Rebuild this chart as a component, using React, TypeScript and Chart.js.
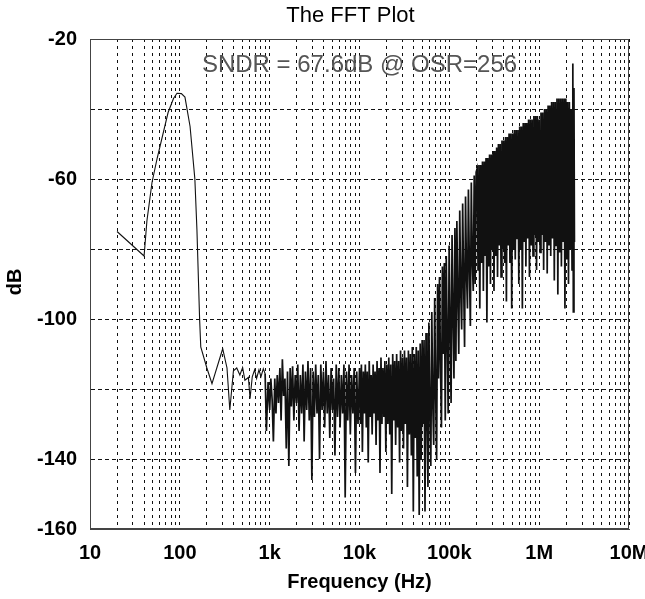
import React, { useEffect, useRef } from "react";
import { Chart, registerables } from "chart.js";

Chart.register(...registerables);

// ---------- text ----------
const TITLE = "The FFT Plot";
const ANNOTATION = "SNDR = 67.6dB @ OSR=256";
const X_TITLE = "Frequency (Hz)";
const Y_TITLE = "dB";

// ---------- axes ----------
const xDecades = [10, 100, 1e3, 1e4, 1e5, 1e6, 1e7];
const xDecadeLabels = ["10", "100", "1k", "10k", "100k", "1M", "10M"];
const yGridValues = [-160, -140, -120, -100, -80, -60, -40, -20];
const yLabelledValues = [-160, -140, -100, -60, -20];

// ---------- spectrum [Hz, dB]: signal region ----------
const signalBand: [number, number][] = [
  [20, -75], [40, -82], [43, -72], [49, -61], [56, -54], [74, -41], [85, -37], [93, -35.5],
  [104, -35.6], [114, -36.6], [130, -45], [147, -60], [155, -74.5], [166, -100], [171, -108],
  [200, -114], [228, -118.5], [300, -108.5], [335, -114], [360, -126], [395, -114.8], [430, -114],
  [466, -116], [500, -113.9], [530, -117.5], [580, -116.7], [605, -122.8], [640, -116.5],
  [680, -114.5], [715, -117], [760, -114.5], [800, -116.5], [850, -114.2], [890, -115.6],
];

// ---------- noise floor ~1k-10k ----------
const floorBand: [number, number][] = [
  [920, -132], [960, -118], [1000, -126], [1030, -117], [1065, -123], [1100, -135], [1140, -117],
  [1175, -127], [1215, -116], [1255, -124], [1300, -114], [1340, -129], [1385, -111.5], [1430, -122],
  [1480, -117], [1530, -137], [1580, -115], [1635, -142], [1690, -114], [1745, -125], [1800, -113.5],
  [1860, -129], [1925, -116], [1990, -124], [2055, -113], [2125, -132], [2195, -116], [2270, -127],
  [2345, -113], [2420, -135], [2500, -115], [2585, -126], [2670, -112], [2760, -129], [2855, -114],
  [2950, -146], [3050, -115], [3150, -128], [3255, -113], [3365, -127], [3475, -116], [3590, -140],
  [3710, -113], [3835, -126], [3965, -115], [4095, -131], [4235, -112], [4375, -127], [4520, -116],
  [4670, -134], [4830, -114], [4990, -126], [5155, -117], [5330, -139], [5505, -113], [5690, -128],
  [5880, -114], [6080, -131], [6280, -116], [6490, -127], [6710, -113], [6930, -151], [7165, -115],
  [7400, -129], [7650, -113], [7905, -133], [8170, -116], [8440, -127], [8720, -114], [9015, -144],
  [9315, -115], [9625, -130],
];

// ---------- noise floor ~10k-50k ----------
const flatBand: [number, number][] = [
  [10000, -114], [10250, -130], [10500, -113], [10770, -138], [11040, -115], [11320, -127],
  [11610, -113], [11900, -131], [12200, -115], [12510, -141], [12830, -112], [13150, -128],
  [13490, -116], [13830, -133], [14180, -113], [14540, -127], [14910, -115], [15290, -136],
  [15680, -112], [16080, -129], [16490, -114], [16910, -144], [17340, -111], [17780, -130],
  [18230, -114], [18690, -128], [19170, -112], [19650, -138], [20150, -113], [20670, -130],
  [21190, -111], [21730, -133], [22280, -113], [22850, -150], [23430, -110], [24030, -129],
  [24640, -112], [25260, -136], [25910, -110], [26570, -131], [27240, -112], [27940, -141],
  [28650, -109], [29380, -132], [30120, -111], [30890, -137], [31680, -109], [32480, -130],
  [33310, -111], [34160, -148], [35030, -109], [35920, -133], [36830, -110], [37770, -139],
  [38730, -108], [39720, -155], [40730, -110], [41760, -134], [42830, -108], [43920, -145],
  [45030, -109], [46180, -156], [47350, -107], [48560, -140], [49800, -106],
];

// ---------- shaped-noise rise ~50k-200k ----------
const riseBand: [number, number][] = [
  [51000, -130], [52300, -106], [53600, -155], [55000, -104], [56400, -128], [57800, -148],
  [59200, -101], [60700, -126], [62200, -142], [63800, -98], [65400, -124], [67000, -136],
  [68700, -94], [70400, -121], [72200, -140], [74000, -90], [75800, -117], [77700, -88],
  [79700, -113], [81700, -131], [83700, -85], [85800, -110], [87900, -84], [90100, -129],
  [92400, -82], [94700, -105], [97100, -127], [99500, -79], [102000, -101], [104600, -124],
  [107200, -76], [109900, -98], [112600, -117], [115400, -74], [118300, -112], [121300, -72],
  [124300, -94], [127400, -110], [130600, -69], [133900, -92], [137200, -103], [140700, -67],
  [144200, -89], [147800, -108], [151500, -65], [155300, -87], [159200, -97], [163100, -63],
  [167200, -85], [171400, -102], [175700, -61], [180100, -83], [184600, -92], [189200, -59],
  [193900, -90], [198800, -58],
];

// ---------- shaped-noise plateau ~200k-2.5M ----------
const highBand: [number, number][] = [
  [204000, -57], [208700, -86], [213500, -56], [218400, -97], [223400, -56], [228500, -84],
  [233800, -55], [239200, -92], [244700, -55], [250300, -82], [256000, -54], [261900, -101],
  [267900, -54], [274100, -85], [280400, -53], [286800, -90], [293400, -53], [300200, -80],
  [307100, -52], [314100, -92], [321300, -52], [328700, -82], [336300, -51], [344000, -88],
  [351900, -50], [360000, -79], [368300, -50], [376700, -88], [385400, -49], [394200, -80],
  [403300, -49], [412600, -84], [422100, -48], [431800, -95], [441700, -48], [451800, -79],
  [462200, -47], [472800, -84], [483700, -47], [494800, -97], [506200, -47], [517800, -80],
  [529700, -46], [541900, -83], [554400, -46], [567100, -77], [580100, -46], [593500, -90],
  [607100, -45], [621100, -80], [635400, -45], [650000, -97], [664900, -44], [680200, -78],
  [695800, -44], [711800, -85], [728200, -44], [744900, -77], [762000, -43], [779500, -88],
  [797500, -43], [815800, -79], [834600, -43], [853800, -82], [873400, -42], [893500, -76],
  [914000, -42], [935000, -86], [956500, -42], [978500, -78], [1001000, -43], [1024000, -81],
  [1048000, -41], [1072000, -76], [1096000, -41], [1122000, -86], [1148000, -40], [1174000, -78],
  [1201000, -40], [1229000, -87], [1257000, -39], [1286000, -79], [1315000, -39], [1345000, -82],
  [1376000, -38], [1408000, -77], [1441000, -38], [1474000, -89], [1508000, -38], [1542000, -79],
  [1578000, -37], [1614000, -93], [1651000, -37], [1689000, -81], [1728000, -37], [1768000, -85],
  [1808000, -37], [1850000, -78], [1892000, -37], [1936000, -97], [1980000, -37], [2026000, -83],
  [2072000, -38], [2120000, -90], [2169000, -38], [2219000, -80], [2270000, -40], [2322000, -86],
  [2360000, -42], [2380000, -27], [2400000, -98], [2440000, -34], [2470000, -78],
];

const FONT = '"Liberation Sans", Arial, Helvetica, sans-serif';

function toPoints(rows: [number, number][]) {
  return rows.map(([f, d]) => ({ x: f, y: d }));
}

const decorPlugin = {
  id: "decor",
  beforeDatasetsDraw(chart: any) {
    const { ctx, chartArea } = chart;
    const cx = (chartArea.left + chartArea.right) / 2;
    ctx.save();
    ctx.fillStyle = "#555";
    ctx.font = `24px ${FONT}`;
    ctx.textAlign = "center";
    ctx.textBaseline = "middle";
    ctx.fillText(ANNOTATION, cx, chartArea.top + 26);
    ctx.restore();
  },
  afterDraw(chart: any) {
    const { ctx, chartArea } = chart;
    const l = Math.round(chartArea.left) + 0.5;
    const t = Math.round(chartArea.top) + 0.5;
    const r = Math.round(chartArea.right) - 0.5;
    const b = Math.round(chartArea.bottom) - 0.5;
    ctx.save();
    ctx.strokeStyle = "#444";
    ctx.lineWidth = 1;
    ctx.setLineDash([]);
    ctx.strokeRect(l, t, r - l, b - t);
    const cx = (chartArea.left + chartArea.right) / 2;
    ctx.fillStyle = "#000";
    ctx.textAlign = "center";
    ctx.textBaseline = "middle";
    ctx.font = `22px ${FONT}`;
    ctx.fillText(TITLE, cx - 9, 16);
    ctx.font = `bold 20px ${FONT}`;
    ctx.fillText(X_TITLE, cx, 582);
    ctx.translate(15, 282);
    ctx.rotate(-Math.PI / 2);
    ctx.fillText(Y_TITLE, 0, 0);
    ctx.restore();
  },
};

export default function App() {
  const canvasRef = useRef<HTMLCanvasElement | null>(null);

  useEffect(() => {
    document.body.style.margin = "0";
    document.body.style.overflow = "hidden";
    const canvas = canvasRef.current;
    if (!canvas) return;

    const signalPoints = toPoints(signalBand);
    const noisePoints = [
      signalPoints[signalPoints.length - 1],
      ...toPoints(floorBand),
      ...toPoints(flatBand),
      ...toPoints(riseBand),
      ...toPoints(highBand),
    ];

    const chart = new Chart(canvas, {
      type: "line",
      data: {
        datasets: [
          {
            data: signalPoints,
            borderColor: "#111",
            borderWidth: 1.1,
            pointRadius: 0,
            tension: 0,
            fill: false,
          },
          {
            data: noisePoints,
            borderColor: "#111",
            borderWidth: 1.7,
            pointRadius: 0,
            tension: 0,
            fill: false,
          },
        ],
      },
      options: {
        animation: false,
        responsive: false,
        maintainAspectRatio: false,
        layout: { padding: { top: 39, right: 16, bottom: 0, left: 0 } },
        plugins: {
          legend: { display: false },
          title: { display: false },
          tooltip: { enabled: false },
        },
        scales: {
          x: {
            type: "logarithmic",
            min: 10,
            max: 1e7,
            afterBuildTicks: (scale: any) => {
              const ticks: { value: number }[] = [];
              for (let d = 0; d < xDecades.length; d++) {
                const base = xDecades[d];
                if (d === xDecades.length - 1) {
                  ticks.push({ value: base });
                } else {
                  for (let m = 1; m < 10; m++) ticks.push({ value: base * m });
                }
              }
              scale.ticks = ticks;
            },
            afterFit: (scale: any) => {
              scale.height = 70;
              scale.paddingLeft = 0;
              scale.paddingRight = 0;
            },
            ticks: {
              autoSkip: false,
              maxRotation: 0,
              minRotation: 0,
              padding: 12,
              color: "#000",
              font: { family: FONT, size: 20, weight: "bold" },
              callback: (v: any) => {
                const i = xDecades.indexOf(Number(v));
                return i >= 0 ? xDecadeLabels[i] : "";
              },
            },
            grid: { color: "#111", lineWidth: 1, drawTicks: false },
            border: { display: true, color: "#444", width: 1, dash: [3, 4] },
          },
          y: {
            type: "linear",
            min: -160,
            max: -20,
            afterBuildTicks: (scale: any) => {
              scale.ticks = yGridValues.map((v) => ({ value: v }));
            },
            afterFit: (scale: any) => {
              scale.width = 90;
              scale.paddingTop = 0;
              scale.paddingBottom = 0;
            },
            ticks: {
              autoSkip: false,
              padding: 13,
              color: "#000",
              font: { family: FONT, size: 20, weight: "bold" },
              callback: (v: any) => (yLabelledValues.includes(Number(v)) ? String(v) : ""),
            },
            grid: { color: "#111", lineWidth: 1, drawTicks: false },
            border: { display: true, color: "#444", width: 1, dash: [4, 3] },
          },
        },
      },
      plugins: [decorPlugin],
    });

    return () => chart.destroy();
  }, []);

  return (
    <div style={{ width: 645, height: 599, overflow: "hidden", background: "#fff" }}>
      <canvas ref={canvasRef} width={645} height={599} style={{ display: "block" }} />
    </div>
  );
}
